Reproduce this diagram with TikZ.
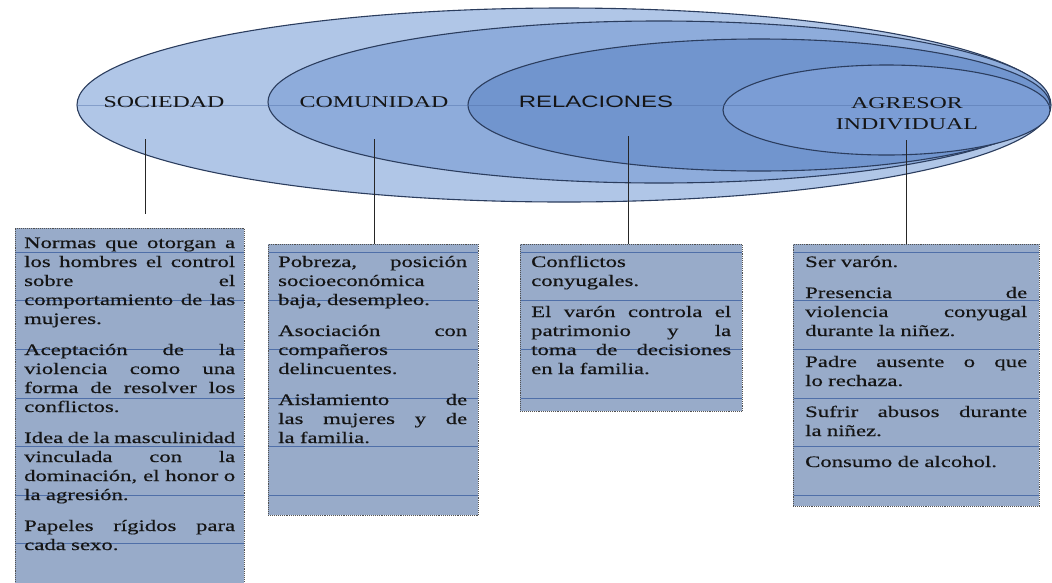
\documentclass[tikz,border=0pt]{standalone}
\usepackage{fontspec}
\setmainfont{Liberation Serif}
\newfontfamily\boxfont[FakeStretch=1.42,FakeBold=0.4]{Liberation Serif}
\newfontfamily\lblfont[FakeStretch=1.45]{Liberation Serif}
\newfontfamily\lblsans[FakeStretch=1.45]{Liberation Sans}
\usetikzlibrary{shapes.geometric}
\definecolor{textc}{HTML}{151515}
\definecolor{ellline}{HTML}{2B3D5E}
\definecolor{socfill}{HTML}{B0C6E7}
\definecolor{comfill}{HTML}{8EACDB}
\definecolor{relfill}{HTML}{7195CE}
\definecolor{agrfill}{HTML}{7B9DD5}
\definecolor{boxfill}{HTML}{98ABC9}
\definecolor{boxline}{HTML}{505050}
\definecolor{rulec}{HTML}{4F6FA8}
\def\jwd{200pt}
\newcommand{\jl}[1]{\leavevmode\hbox to \jwd{\spaceskip=.25em plus 1fil minus .12em\relax\xspaceskip=\spaceskip #1}\\}
\begin{document}
\begin{tikzpicture}[x=1pt,y=-1pt,
  ell/.style={ellipse, draw=ellline, line width=1.1pt, inner sep=0pt},
  lbl/.style={font=\lblfont\fontsize{16.5}{21}\selectfont, text=textc, align=center, inner sep=0pt},
  lbls/.style={font=\lblsans\fontsize{16.5}{21}\selectfont, text=textc, align=center, inner sep=0pt},
  boxn/.style={rectangle, draw=boxline, densely dotted, line width=0.9pt, fill=boxfill, inner sep=0pt, anchor=north west},
  txt/.style={font=\boxfont\fontsize{16}{19}\selectfont, text=textc, inner sep=0pt, anchor=base west, align=left},
  conn/.style={draw=black!85, line width=0.7pt},
  rule/.style={draw=rulec, line width=0.5pt}]
\useasboundingbox[fill=white] (0,0) rectangle (1052,582);

% ellipses
\node[ell, fill=socfill, minimum width=974pt, minimum height=194pt] (soc) at (564,105) {};
\node[ell, fill=comfill, minimum width=782pt, minimum height=162pt] (com) at (659,102) {};
\node[ell, fill=relfill, minimum width=582pt, minimum height=132pt] (rel) at (759,105) {};
\node[ell, fill=agrfill, minimum width=327pt, minimum height=90pt] (agr) at (886.5,110) {};
\begin{scope}
\clip (564,105) ellipse [x radius=487pt, y radius=97pt];
\draw[rule, opacity=0.45] (60,105) -- (1052,105);
\end{scope}

% labels
\node[lbl] (lsoc) at (164,102) {SOCIEDAD};
\node[lbl] (lcom) at (374,102) {COMUNIDAD};
\node[lbls] (lrel) at (596,102) {RELACIONES};
\node[lbl] (lagr) at (907,114) {AGRESOR\\INDIVIDUAL};

% boxes
\node[boxn, minimum width=229pt, minimum height=358pt] (b1) at (15,228) {};
\node[boxn, minimum width=210pt, minimum height=271pt] (b2) at (268,244) {};
\node[boxn, minimum width=222pt, minimum height=167pt] (b3) at (520,244) {};
\node[boxn, minimum width=246pt, minimum height=262pt] (b4) at (793,244) {};

% ruled lines inside boxes
\foreach \yy in {252,300.6,349.2,397.8,446.4,495,543.6}
  \draw[rule] (15.5,\yy) -- (243.5,\yy);
\foreach \yy in {252,300.6,349.2,397.8,446.4,495}
  \draw[rule] (268.5,\yy) -- (477.5,\yy);
\foreach \yy in {252,300.6,349.2,397.8}
  \draw[rule] (520.5,\yy) -- (741.5,\yy);
\foreach \yy in {252,300.6,349.2,397.8,446.4,495}
  \draw[rule] (793.5,\yy) -- (1038.5,\yy);

% connectors
\coordinate (s1) at (145,139);
\coordinate (s2) at (145,214);
\coordinate (c2) at (374,139);
\coordinate (c3) at (628,136);
\coordinate (c4) at (906,140);
\draw[conn] (s1) -- (s2);
\draw[conn] (c2) -- (c2 |- b2.north);
\draw[conn] (c3) -- (c3 |- b3.north);
\draw[conn] (c4) -- (c4 |- b4.north);

% texts
\node[txt, text width=211pt] (t1) at (24,248) {\def\jwd{211pt}%
\jl{Normas que otorgan a}
\jl{los hombres el control}
\jl{sobre el}
\jl{comportamiento de las}
mujeres.\\[12pt]
\jl{Aceptación de la}
\jl{violencia como una}
\jl{forma de resolver los}
conflictos.\\[12pt]
\jl{Idea de la masculinidad}
\jl{vinculada con la}
\jl{dominación, el honor o}
la agresión.\\[12pt]
\jl{Papeles rígidos para}
cada sexo.};

\node[txt, text width=189pt] (t2) at (278,267) {\def\jwd{189pt}%
\jl{Pobreza, posición}
socioeconómica\\
baja, desempleo.\\[12pt]
\jl{Asociación con}
compañeros\\
delincuentes.\\[12pt]
\jl{Aislamiento de}
\jl{las mujeres y de}
la familia.};

\node[txt, text width=200pt] (t3) at (531,267) {\def\jwd{200pt}%
Conflictos\\
conyugales.\\[12pt]
\jl{El varón controla el}
\jl{patrimonio y la}
\jl{toma de decisiones}
en la familia.};

\node[txt, text width=222pt] (t4) at (805,267) {\def\jwd{222pt}%
Ser varón.\\[12pt]
\jl{Presencia de}
\jl{violencia conyugal}
durante la niñez.\\[12pt]
\jl{Padre ausente o que}
lo rechaza.\\[12pt]
\jl{Sufrir abusos durante}
la niñez.\\[12pt]
Consumo de alcohol.};
\end{tikzpicture}
\end{document}
